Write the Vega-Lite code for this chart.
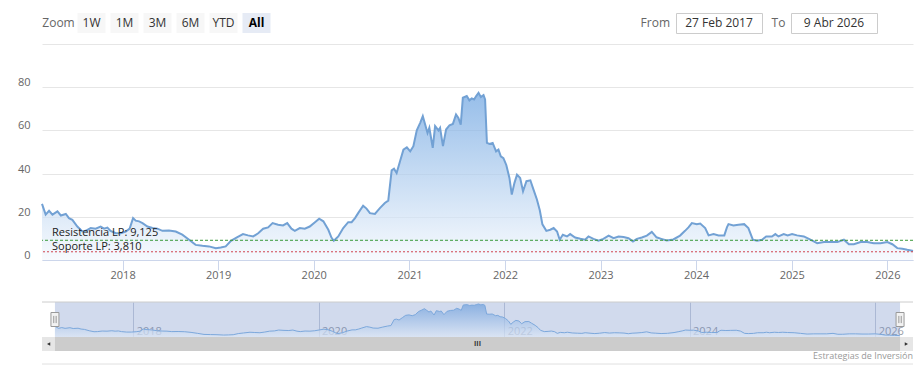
{
  "$schema": "https://vega.github.io/schema/vega-lite/v6.json",
  "padding": {"left": 17, "top": 12, "right": 0, "bottom": 0},
  "config": {
    "view": {"stroke": null},
    "font": "Open Sans",
    "axis": {"labelFont": "Open Sans", "titleFont": "Open Sans"},
    "text": {"font": "Open Sans"}
  },
  "datasets": {
    "precios": [
      {"fecha": "2017-02-27", "precio": 26},
      {"fecha": "2017-03-13", "precio": 21},
      {"fecha": "2017-03-26", "precio": 22.8},
      {"fecha": "2017-04-08", "precio": 21},
      {"fecha": "2017-04-27", "precio": 22.5},
      {"fecha": "2017-05-10", "precio": 20.6},
      {"fecha": "2017-05-29", "precio": 21.3},
      {"fecha": "2017-06-10", "precio": 19.4},
      {"fecha": "2017-06-23", "precio": 18.6},
      {"fecha": "2017-07-12", "precio": 15.5},
      {"fecha": "2017-07-31", "precio": 13.2},
      {"fecha": "2017-08-13", "precio": 13.5},
      {"fecha": "2017-09-01", "precio": 14.8},
      {"fecha": "2017-09-20", "precio": 14.5},
      {"fecha": "2017-10-09", "precio": 15.5},
      {"fecha": "2017-10-22", "precio": 14.5},
      {"fecha": "2017-11-04", "precio": 15},
      {"fecha": "2017-11-16", "precio": 13.5},
      {"fecha": "2017-12-06", "precio": 12.4},
      {"fecha": "2017-12-25", "precio": 12.4},
      {"fecha": "2018-01-13", "precio": 13.2},
      {"fecha": "2018-01-28", "precio": 14.5},
      {"fecha": "2018-02-10", "precio": 19.4},
      {"fecha": "2018-02-20", "precio": 18.2},
      {"fecha": "2018-03-05", "precio": 17.9},
      {"fecha": "2018-03-18", "precio": 17.1},
      {"fecha": "2018-04-06", "precio": 15.5},
      {"fecha": "2018-04-25", "precio": 14.8},
      {"fecha": "2018-05-14", "precio": 14.5},
      {"fecha": "2018-06-02", "precio": 13.5},
      {"fecha": "2018-06-27", "precio": 13.7},
      {"fecha": "2018-07-23", "precio": 13.2},
      {"fecha": "2018-08-17", "precio": 11.7},
      {"fecha": "2018-09-12", "precio": 9.4},
      {"fecha": "2018-10-07", "precio": 7},
      {"fecha": "2018-11-02", "precio": 6.6},
      {"fecha": "2018-11-27", "precio": 6.3},
      {"fecha": "2018-12-23", "precio": 5.5},
      {"fecha": "2019-01-11", "precio": 5.8},
      {"fecha": "2019-01-30", "precio": 6.3},
      {"fecha": "2019-02-19", "precio": 8.9},
      {"fecha": "2019-03-12", "precio": 10.4},
      {"fecha": "2019-04-06", "precio": 12},
      {"fecha": "2019-04-25", "precio": 11.4},
      {"fecha": "2019-05-15", "precio": 10.9},
      {"fecha": "2019-06-03", "precio": 12.4},
      {"fecha": "2019-06-22", "precio": 14.5},
      {"fecha": "2019-07-11", "precio": 15.1},
      {"fecha": "2019-07-28", "precio": 17.1},
      {"fecha": "2019-08-18", "precio": 16.3},
      {"fecha": "2019-09-06", "precio": 16},
      {"fecha": "2019-09-22", "precio": 17.1},
      {"fecha": "2019-10-08", "precio": 14.5},
      {"fecha": "2019-10-21", "precio": 13.5},
      {"fecha": "2019-11-09", "precio": 14.8},
      {"fecha": "2019-11-28", "precio": 14.5},
      {"fecha": "2019-12-17", "precio": 15.5},
      {"fecha": "2020-01-06", "precio": 17.5},
      {"fecha": "2020-01-22", "precio": 19.1},
      {"fecha": "2020-02-07", "precio": 17.9},
      {"fecha": "2020-02-26", "precio": 14},
      {"fecha": "2020-03-09", "precio": 10.4},
      {"fecha": "2020-03-18", "precio": 8.9},
      {"fecha": "2020-04-04", "precio": 10.9},
      {"fecha": "2020-04-23", "precio": 14.8},
      {"fecha": "2020-05-12", "precio": 17.5},
      {"fecha": "2020-05-25", "precio": 17.5},
      {"fecha": "2020-06-07", "precio": 19.4},
      {"fecha": "2020-06-19", "precio": 21.7},
      {"fecha": "2020-07-08", "precio": 25.1},
      {"fecha": "2020-07-21", "precio": 23.8},
      {"fecha": "2020-08-03", "precio": 21.7},
      {"fecha": "2020-08-22", "precio": 21.3},
      {"fecha": "2020-09-10", "precio": 24},
      {"fecha": "2020-09-29", "precio": 26.4},
      {"fecha": "2020-10-12", "precio": 27.5},
      {"fecha": "2020-10-25", "precio": 41.5},
      {"fecha": "2020-11-03", "precio": 42.3},
      {"fecha": "2020-11-13", "precio": 40.3},
      {"fecha": "2020-11-26", "precio": 45.7},
      {"fecha": "2020-12-09", "precio": 51.1},
      {"fecha": "2020-12-22", "precio": 52.2},
      {"fecha": "2021-01-04", "precio": 50.3},
      {"fecha": "2021-01-16", "precio": 52.7},
      {"fecha": "2021-01-29", "precio": 60},
      {"fecha": "2021-02-11", "precio": 63.5},
      {"fecha": "2021-02-21", "precio": 66.6},
      {"fecha": "2021-03-02", "precio": 62.7},
      {"fecha": "2021-03-11", "precio": 58.8},
      {"fecha": "2021-03-18", "precio": 61.2},
      {"fecha": "2021-03-31", "precio": 51.9},
      {"fecha": "2021-04-09", "precio": 62},
      {"fecha": "2021-04-22", "precio": 60},
      {"fecha": "2021-04-28", "precio": 61.2},
      {"fecha": "2021-05-09", "precio": 52.7},
      {"fecha": "2021-05-21", "precio": 60.4},
      {"fecha": "2021-06-03", "precio": 62.4},
      {"fecha": "2021-06-16", "precio": 63},
      {"fecha": "2021-06-28", "precio": 67.4},
      {"fecha": "2021-07-07", "precio": 65.8},
      {"fecha": "2021-07-16", "precio": 62.7},
      {"fecha": "2021-07-24", "precio": 75.1},
      {"fecha": "2021-08-08", "precio": 75.9},
      {"fecha": "2021-08-18", "precio": 73.9},
      {"fecha": "2021-08-27", "precio": 74.8},
      {"fecha": "2021-09-05", "precio": 74.3},
      {"fecha": "2021-09-13", "precio": 75.9},
      {"fecha": "2021-09-22", "precio": 77.4},
      {"fecha": "2021-10-01", "precio": 75.4},
      {"fecha": "2021-10-11", "precio": 76.3},
      {"fecha": "2021-10-17", "precio": 74.3},
      {"fecha": "2021-10-24", "precio": 54.2},
      {"fecha": "2021-11-03", "precio": 53.7},
      {"fecha": "2021-11-15", "precio": 54.2},
      {"fecha": "2021-11-28", "precio": 50.3},
      {"fecha": "2021-12-07", "precio": 51.1},
      {"fecha": "2021-12-16", "precio": 48},
      {"fecha": "2021-12-26", "precio": 47.2},
      {"fecha": "2022-01-06", "precio": 44},
      {"fecha": "2022-01-18", "precio": 38},
      {"fecha": "2022-01-27", "precio": 30.3},
      {"fecha": "2022-02-06", "precio": 35.6},
      {"fecha": "2022-02-16", "precio": 39.5},
      {"fecha": "2022-02-28", "precio": 38},
      {"fecha": "2022-03-11", "precio": 31.8},
      {"fecha": "2022-03-24", "precio": 36.5},
      {"fecha": "2022-04-08", "precio": 36.9},
      {"fecha": "2022-04-19", "precio": 32.9},
      {"fecha": "2022-05-03", "precio": 28},
      {"fecha": "2022-05-14", "precio": 23},
      {"fecha": "2022-05-24", "precio": 16.5},
      {"fecha": "2022-06-08", "precio": 13.5},
      {"fecha": "2022-06-23", "precio": 14},
      {"fecha": "2022-07-06", "precio": 14.8},
      {"fecha": "2022-07-19", "precio": 13.2},
      {"fecha": "2022-07-29", "precio": 9.4},
      {"fecha": "2022-08-10", "precio": 11.7},
      {"fecha": "2022-08-26", "precio": 10.9},
      {"fecha": "2022-09-07", "precio": 12},
      {"fecha": "2022-09-26", "precio": 10.4},
      {"fecha": "2022-10-16", "precio": 9.8},
      {"fecha": "2022-11-03", "precio": 9.4},
      {"fecha": "2022-11-16", "precio": 10.9},
      {"fecha": "2022-12-05", "precio": 9.8},
      {"fecha": "2022-12-24", "precio": 8.9},
      {"fecha": "2023-01-12", "precio": 9.8},
      {"fecha": "2023-02-01", "precio": 11.3},
      {"fecha": "2023-02-20", "precio": 10.1},
      {"fecha": "2023-03-11", "precio": 10.9},
      {"fecha": "2023-03-30", "precio": 10.6},
      {"fecha": "2023-04-18", "precio": 10.1},
      {"fecha": "2023-05-05", "precio": 8.6},
      {"fecha": "2023-05-20", "precio": 9.8},
      {"fecha": "2023-06-08", "precio": 10.4},
      {"fecha": "2023-06-27", "precio": 11.3},
      {"fecha": "2023-07-16", "precio": 13},
      {"fecha": "2023-08-03", "precio": 10.5},
      {"fecha": "2023-08-21", "precio": 9.8},
      {"fecha": "2023-09-11", "precio": 9},
      {"fecha": "2023-10-06", "precio": 9.5},
      {"fecha": "2023-11-01", "precio": 11.3},
      {"fecha": "2023-11-20", "precio": 13.5},
      {"fecha": "2023-12-03", "precio": 15.1},
      {"fecha": "2023-12-16", "precio": 17.1},
      {"fecha": "2024-01-04", "precio": 16.6},
      {"fecha": "2024-01-17", "precio": 16.9},
      {"fecha": "2024-02-05", "precio": 14.8},
      {"fecha": "2024-02-18", "precio": 11.4},
      {"fecha": "2024-03-08", "precio": 12},
      {"fecha": "2024-03-27", "precio": 11.4},
      {"fecha": "2024-04-18", "precio": 11.4},
      {"fecha": "2024-04-28", "precio": 15.1},
      {"fecha": "2024-05-04", "precio": 16.6},
      {"fecha": "2024-05-23", "precio": 16},
      {"fecha": "2024-06-11", "precio": 16.3},
      {"fecha": "2024-07-03", "precio": 16.6},
      {"fecha": "2024-07-19", "precio": 14.8},
      {"fecha": "2024-08-05", "precio": 9.4},
      {"fecha": "2024-08-21", "precio": 8.9},
      {"fecha": "2024-09-09", "precio": 9.4},
      {"fecha": "2024-09-25", "precio": 10.9},
      {"fecha": "2024-10-17", "precio": 10.9},
      {"fecha": "2024-10-30", "precio": 12},
      {"fecha": "2024-11-11", "precio": 10.9},
      {"fecha": "2024-12-01", "precio": 12},
      {"fecha": "2024-12-16", "precio": 11.4},
      {"fecha": "2025-01-02", "precio": 12},
      {"fecha": "2025-01-21", "precio": 11.4},
      {"fecha": "2025-02-16", "precio": 10.9},
      {"fecha": "2025-03-13", "precio": 9.4},
      {"fecha": "2025-04-08", "precio": 7.8},
      {"fecha": "2025-05-04", "precio": 8.3},
      {"fecha": "2025-05-29", "precio": 8.3},
      {"fecha": "2025-06-24", "precio": 8.3},
      {"fecha": "2025-07-19", "precio": 9.4},
      {"fecha": "2025-08-07", "precio": 7.3},
      {"fecha": "2025-08-26", "precio": 7.3},
      {"fecha": "2025-09-21", "precio": 8.3},
      {"fecha": "2025-10-16", "precio": 8.3},
      {"fecha": "2025-11-10", "precio": 7.8},
      {"fecha": "2025-12-06", "precio": 7.8},
      {"fecha": "2026-01-01", "precio": 8.3},
      {"fecha": "2026-01-20", "precio": 7.3},
      {"fecha": "2026-02-08", "precio": 5.5},
      {"fecha": "2026-02-27", "precio": 5.2},
      {"fecha": "2026-03-18", "precio": 4.7},
      {"fecha": "2026-04-06", "precio": 4.3},
      {"fecha": "2026-04-09", "precio": 4.2}
    ],
    "niveles": [
      {"nivel": "Resistencia LP", "valor": 9.125, "etiqueta": "Resistencia LP: 9,125"},
      {"nivel": "Soporte LP", "valor": 3.81, "etiqueta": "Soporte LP: 3,810"}
    ],
    "rango": [
      {"desde": "2017-02-27", "hasta": "2026-04-09"}
    ],
    "botones": [
      {"boton": "Zoom", "tipo": "etiqueta", "estado": "normal"},
      {"boton": "1W", "tipo": "boton", "estado": "normal"},
      {"boton": "1M", "tipo": "boton", "estado": "normal"},
      {"boton": "3M", "tipo": "boton", "estado": "normal"},
      {"boton": "6M", "tipo": "boton", "estado": "normal"},
      {"boton": "YTD", "tipo": "boton", "estado": "normal"},
      {"boton": "All", "tipo": "boton", "estado": "seleccionado"}
    ]
  },
  "spacing": 31,
  "bounds": "flush",
  "vconcat": [
    {
      "spacing": 0,
      "bounds": "flush",
      "hconcat": [
        {
          "width": 231,
          "height": 20,
          "data": {"name": "botones"},
          "layer": [
            {
              "transform": [{"filter": "datum.tipo == 'boton'"}],
              "mark": {"type": "rect"},
              "encoding": {
                "x": {"field": "boton", "type": "nominal", "sort": null,
                  "scale": {"domain": ["Zoom", "1W", "1M", "3M", "6M", "YTD", "All"], "paddingInner": 0.15, "paddingOuter": 0.075},
                  "axis": null},
                "color": {"field": "estado", "type": "nominal",
                  "scale": {"domain": ["normal", "seleccionado"], "range": ["#f7f7f7", "#e6ebf5"]}, "legend": null}
              }
            },
            {
              "transform": [{"filter": "datum.estado == 'normal'"}],
              "mark": {"type": "text", "fontSize": 12},
              "encoding": {
                "x": {"field": "boton", "type": "nominal"},
                "text": {"field": "boton"},
                "color": {"field": "tipo", "type": "nominal",
                  "scale": {"domain": ["etiqueta", "boton"], "range": ["#666666", "#333333"]}, "legend": null}
              }
            },
            {
              "transform": [{"filter": "datum.estado == 'seleccionado'"}],
              "mark": {"type": "text", "fontSize": 12, "fontWeight": "bold", "color": "#000000"},
              "encoding": {
                "x": {"field": "boton", "type": "nominal"},
                "text": {"field": "boton"}
              }
            }
          ],
          "resolve": {"scale": {"color": "independent"}}
        },
        {
          "width": 403,
          "height": 20,
          "data": {"values": [{"texto": "From"}]},
          "mark": {"type": "text", "align": "right", "fontSize": 12, "color": "#666666", "dx": -6},
          "encoding": {"x": {"value": "width"}, "text": {"field": "texto"}}
        },
        {
          "width": 86,
          "height": 20,
          "view": {"fill": "#ffffff", "stroke": "#cccccc"},
          "data": {"values": [{"texto": "27 Feb 2017"}]},
          "mark": {"type": "text", "fontSize": 12, "color": "#333333"},
          "encoding": {"text": {"field": "texto"}}
        },
        {
          "width": 29,
          "height": 20,
          "data": {"values": [{"texto": "To"}]},
          "mark": {"type": "text", "fontSize": 12, "color": "#666666", "dx": 2},
          "encoding": {"text": {"field": "texto"}}
        },
        {
          "width": 86,
          "height": 20,
          "view": {"fill": "#ffffff", "stroke": "#cccccc"},
          "data": {"values": [{"texto": "9 Abr 2026"}]},
          "mark": {"type": "text", "fontSize": 12, "color": "#333333"},
          "encoding": {"text": {"field": "texto"}}
        }
      ]
    },
    {
      "spacing": 42,
      "bounds": "flush",
      "vconcat": [
        {
          "width": 871,
          "height": 216,
          "layer": [
            {
              "data": {"name": "precios"},
              "mark": {
                "type": "area",
                "line": {"color": "#72a1d4", "strokeWidth": 2},
                "color": {"gradient": "linear", "x1": 1, "y1": 1, "x2": 1, "y2": 0,
                  "stops": [{"offset": 0, "color": "#f4f8fd"}, {"offset": 1, "color": "#6aa2e0"}]}
              },
              "encoding": {
                "x": {"field": "fecha", "type": "temporal",
                  "scale": {"domain": [{"year": 2017, "month": 2, "date": 27}, {"year": 2026, "month": 4, "date": 9}]},
                  "axis": {"format": "%Y", "tickCount": {"interval": "year", "step": 1}, "grid": false,
                    "domainColor": "#ccd6eb", "tickColor": "#ccd6eb", "tickSize": 10,
                    "labelColor": "#666666", "labelFontSize": 11, "labelPadding": -1, "labelFlush": false, "title": null}},
                "y": {"field": "precio", "type": "quantitative",
                  "scale": {"domain": [0, 100], "nice": false},
                  "axis": {"values": [0, 20, 40, 60, 80, 100], "labelExpr": "datum.value == 100 ? '' : datum.label",
                    "domain": false, "ticks": false, "gridColor": "#e6e6e6", "labelColor": "#666666",
                    "labelFontSize": 11, "labelPadding": 12, "labelBaseline": "alphabetic", "labelOffset": -1.5, "title": null}}
              }
            },
            {
              "data": {"name": "niveles"},
              "mark": {"type": "rule", "strokeWidth": 1},
              "encoding": {
                "y": {"field": "valor", "type": "quantitative"},
                "color": {"field": "nivel", "type": "nominal",
                  "scale": {"domain": ["Resistencia LP", "Soporte LP"], "range": ["#3a9a3a", "#d0454f"]}, "legend": null},
                "strokeDash": {"field": "nivel", "type": "nominal",
                  "scale": {"domain": ["Resistencia LP", "Soporte LP"], "range": [[3, 2], [2, 2]]}, "legend": null}
              }
            },
            {
              "data": {"name": "niveles"},
              "transform": [{"filter": "datum.nivel == 'Resistencia LP'"}],
              "mark": {"type": "text", "align": "left", "baseline": "alphabetic", "dx": 10, "dy": -4, "fontSize": 11, "color": "#222222"},
              "encoding": {
                "x": {"datum": {"year": 2017, "month": 2, "date": 27}, "type": "temporal"},
                "y": {"field": "valor", "type": "quantitative"},
                "text": {"field": "etiqueta"}
              }
            },
            {
              "data": {"name": "niveles"},
              "transform": [{"filter": "datum.nivel == 'Soporte LP'"}],
              "mark": {"type": "text", "align": "left", "baseline": "alphabetic", "dx": 10, "dy": -2, "fontSize": 11, "color": "#222222"},
              "encoding": {
                "x": {"datum": {"year": 2017, "month": 2, "date": 27}, "type": "temporal"},
                "y": {"field": "valor", "type": "quantitative"},
                "text": {"field": "etiqueta"}
              }
            }
          ]
        },
        {
          "spacing": 0,
          "bounds": "flush",
          "vconcat": [
            {
              "width": 871,
              "height": 35,
              "layer": [
                {
                  "data": {"name": "rango"},
                  "mark": {"type": "rect", "fill": "#6685c2", "fillOpacity": 0.3},
                  "encoding": {
                    "x": {"field": "desde", "type": "temporal",
                      "scale": {"domain": [{"year": 2017, "month": 1, "date": 7}, {"year": 2026, "month": 5, "date": 30}]}},
                    "x2": {"field": "hasta"}
                  }
                },
                {
                  "data": {"name": "precios"},
                  "mark": {
                    "type": "area",
                    "line": {"color": "#7ca8dc", "strokeWidth": 1},
                    "color": {"gradient": "linear", "x1": 1, "y1": 1, "x2": 1, "y2": 0,
                      "stops": [{"offset": 0, "color": "#dfe8f6"}, {"offset": 1, "color": "#6d9fdc"}]}
                  },
                  "encoding": {
                    "x": {"field": "fecha", "type": "temporal",
                      "axis": {"orient": "bottom", "domain": false, "ticks": false, "grid": true, "gridColor": "#c9cfdc",
                        "tickCount": {"interval": "year", "step": 2}, "format": "%Y", "labelAlign": "left",
                        "labelBaseline": "alphabetic", "labelPadding": -2.5, "labelOffset": 3, "labelColor": "#9aa0aa",
                        "labelFontSize": 11, "labelFlush": false, "title": null}},
                    "y": {"field": "precio", "type": "quantitative", "scale": {"domain": [1, 82], "nice": false, "zero": false}, "axis": null}
                  }
                },
                {
                  "data": {"name": "rango"},
                  "mark": {"type": "rule", "color": "#cccccc", "strokeWidth": 1},
                  "encoding": {"y": {"datum": 82, "type": "quantitative"}}
                },
                {
                  "data": {"name": "rango"},
                  "mark": {"type": "point", "shape": "M-1,-1.75L1,-1.75L1,1.75L-1,1.75Z M-0.3,-0.9L-0.3,0.9 M0.3,-0.9L0.3,0.9",
                    "size": 64, "filled": true, "fill": "#f2f2f2", "stroke": "#999999", "strokeWidth": 1, "opacity": 1},
                  "encoding": {"x": {"field": "desde", "type": "temporal"}}
                },
                {
                  "data": {"name": "rango"},
                  "mark": {"type": "point", "shape": "M-1,-1.75L1,-1.75L1,1.75L-1,1.75Z M-0.3,-0.9L-0.3,0.9 M0.3,-0.9L0.3,0.9",
                    "size": 64, "filled": true, "fill": "#f2f2f2", "stroke": "#999999", "strokeWidth": 1, "opacity": 1},
                  "encoding": {"x": {"field": "hasta", "type": "temporal"}}
                }
              ]
            },
            {
              "width": 871,
              "height": 14,
              "view": {"fill": "#e6e6e6", "stroke": null},
              "data": {"name": "rango"},
              "layer": [
                {
                  "mark": {"type": "rect", "fill": "#cccccc"},
                  "encoding": {
                    "x": {"field": "desde", "type": "temporal",
                      "scale": {"domain": [{"year": 2017, "month": 1, "date": 7}, {"year": 2026, "month": 5, "date": 30}]},
                      "axis": null},
                    "x2": {"field": "hasta"}
                  }
                },
                {
                  "mark": {"type": "text", "text": "III", "fontSize": 7, "color": "#333333", "fontWeight": "bold"},
                  "encoding": {"x": {"datum": {"year": 2021, "month": 9, "date": 18}, "type": "temporal"}}
                },
                {
                  "mark": {"type": "point", "shape": "triangle-left", "size": 14, "filled": true, "color": "#333333", "opacity": 1},
                  "encoding": {"x": {"datum": {"year": 2017, "month": 2, "date": 2}, "type": "temporal"}}
                },
                {
                  "mark": {"type": "point", "shape": "triangle-right", "size": 14, "filled": true, "color": "#333333", "opacity": 1},
                  "encoding": {"x": {"datum": {"year": 2026, "month": 5, "date": 4}, "type": "temporal"}}
                }
              ]
            },
            {
              "width": 871,
              "height": 13,
              "data": {"values": [{"fuente": "Estrategias de Inversión"}]},
              "layer": [
                {
                  "mark": {"type": "text", "align": "right", "baseline": "middle", "fontSize": 9, "color": "#999999", "dy": -2},
                  "encoding": {"x": {"value": "width"}, "text": {"field": "fuente"}}
                },
                {
                  "mark": {"type": "rule", "color": "#e0e0e0", "strokeWidth": 1},
                  "encoding": {"y": {"value": "height"}}
                }
              ]
            }
          ]
        }
      ]
    }
  ]
}
